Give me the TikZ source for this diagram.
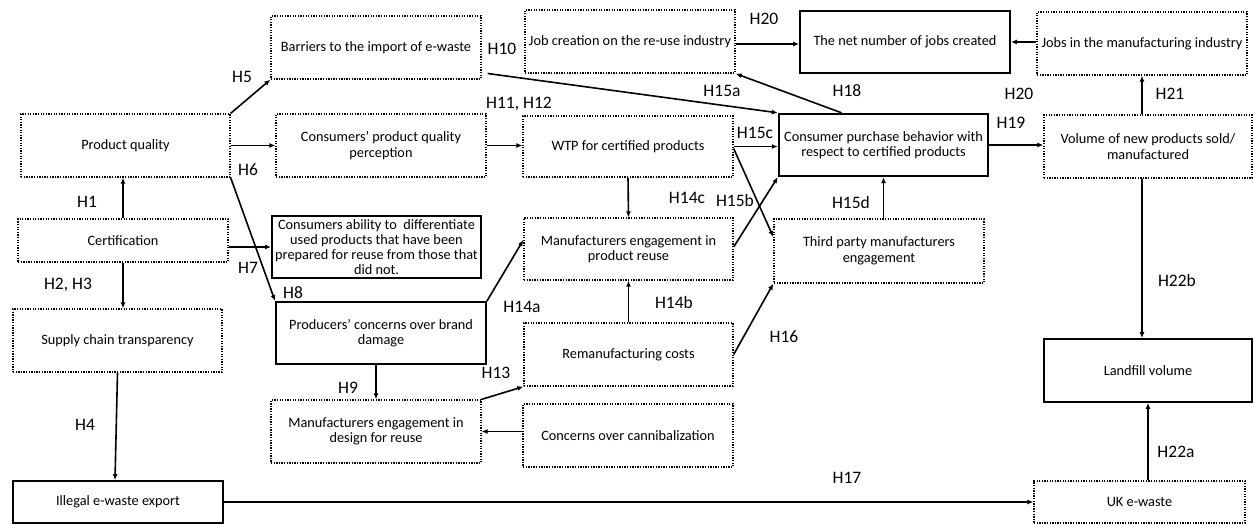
\documentclass[tikz,border=0pt]{standalone}
\usepackage{fontspec}
\setmainfont{Carlito}
\usetikzlibrary{arrows.meta}
\begin{document}
\begin{tikzpicture}[x=1pt,y=-1pt,
  box/.style={rectangle, align=center, inner sep=2pt, font=\fontsize{14.3}{15.5}\selectfont},
  dbox/.style={box, draw, line width=1.3pt, dash pattern=on 1.3pt off 1.3pt},
  sbox/.style={box, draw, line width=1.8pt},
  tbox/.style={box, draw, line width=2.4pt},
  hl/.style={inner sep=0pt, font=\fontsize{17.5}{18}\selectfont},
  arr/.style={-{Latex[length=6pt,width=5pt]}, line width=1.6pt},
  ln/.style={line width=1.6pt}]
\useasboundingbox (0,0) rectangle (1254,525);
% boxes
\node[dbox, minimum width=210pt, minimum height=63pt] (barriers) at (376,47.5) {Barriers to the import of e-waste};
\node[dbox, minimum width=209pt, minimum height=63pt] (pq) at (125.5,145.5) {Product quality};
\node[dbox, minimum width=210pt, minimum height=63pt] (perc) at (381,145.5) {Consumers’ product quality\\perception};
\node[dbox, minimum width=210pt, minimum height=43pt] (cert) at (123,240.5) {Certification};
\node[sbox, minimum width=209pt, minimum height=62pt, inner sep=0pt, font=\fontsize{14.3}{14.8}\selectfont] (ability) at (376.5,247) {Consumers ability to~ differentiate\\used products that have been\\prepared for reuse from those that\\did not.};
\node[dbox, minimum width=209pt, minimum height=63pt] (supply) at (117.5,340.5) {Supply chain transparency};
\node[sbox, minimum width=210pt, minimum height=42pt] (illegal) at (118,502) {Illegal e-waste export};
\node[sbox, minimum width=210pt, minimum height=62pt] (brand) at (381,333) {Producers’ concerns over brand\\damage};
\node[dbox, minimum width=210pt, minimum height=63pt] (design) at (376,431.5) {Manufacturers engagement in\\design for reuse};
\node[dbox, minimum width=210pt, minimum height=63pt] (job) at (630,41.5) {Job creation on the re-use industry};
\node[sbox, minimum width=210pt, minimum height=62pt] (net) at (905,42) {The net number of jobs created};
\node[dbox, minimum width=210pt, minimum height=63pt] (jobsmfg) at (1142,43.5) {Jobs in the manufacturing industry};
\node[dbox, minimum width=210pt, minimum height=61pt] (wtp) at (628,146.5) {WTP for certified products};
\node[tbox, minimum width=209pt, minimum height=62pt] (cpb) at (883.5,145) {Consumer purchase behavior with\\respect to certified products};
\node[dbox, minimum width=208pt, minimum height=63pt] (vol) at (1148,146.5) {Volume of new products sold/\\manufactured};
\node[dbox, minimum width=209pt, minimum height=62pt] (reuse) at (628.5,249) {Manufacturers engagement in\\product reuse};
\node[dbox, minimum width=210pt, minimum height=64pt] (third) at (879,251) {Third party manufacturers\\engagement};
\node[dbox, minimum width=209pt, minimum height=63pt] (reman) at (628.5,354.5) {Remanufacturing costs};
\node[dbox, minimum width=210pt, minimum height=63pt] (cann) at (628,435.5) {Concerns over cannibalization};
\node[sbox, minimum width=208pt, minimum height=63pt] (landfill) at (1148,370.5) {Landfill volume};
\node[dbox, minimum width=211pt, minimum height=42pt] (uk) at (1139.5,502) {UK e-waste};
% connectors
\draw[arr] (cert.north) -- (cert.north |- pq.south);
\draw[arr] (cert.south) -- (cert.south |- supply.north);
\draw[arr] (supply.south) -- ([xshift=-3pt]illegal.north);
\draw[arr] (pq.north east) -- (barriers.south west);
\draw[arr] (pq.east) -- (perc.west);
\draw[arr] (pq.south east) -- (brand.north west);
\draw[arr] (cert.east |- ability.west) -- (ability.west);
\draw[arr] (design.north |- brand.south) -- (design.north);
\draw[arr] (brand.north east) -- ([yshift=9pt]reuse.west);
\draw[arr] (design.north east) -- (reman.south west);
\draw[arr] (cann.west |- design.east) -- (design.east);
\draw[arr] (reman.north) -- (reuse.south);
\draw[arr] (reman.east) -- (third.south west);
\draw[arr] (perc.east) -- (perc.east -| wtp.west);
\draw[arr] (wtp.south) -- (reuse.north);
\draw[arr] (wtp.east) -- (wtp.east -| cpb.west);
\draw[arr] ([yshift=-2pt]wtp.east) -- ([yshift=14pt]third.west);
\draw[arr] ([yshift=2pt]reuse.east) -- (cpb.south west);
\draw[arr] ([xshift=6pt,yshift=-26pt]barriers.east) -- (cpb.north west);
\draw[arr] ([xshift=-42pt]cpb.north) -- (job.south east);
\draw[arr] ([yshift=-2.5pt]job.east) -- ([yshift=-2.5pt]job.east -| net.west);
\draw[arr] (jobsmfg.west |- net.east) -- (net.east);
\draw[arr] (jobsmfg.south |- vol.north) -- (jobsmfg.south);
\draw[arr] (cpb.east) -- (cpb.east -| vol.west);
\draw[arr] (cpb.south |- third.north) -- (cpb.south);
\draw[arr] ([xshift=-6pt]vol.south) -- ([xshift=-6pt]landfill.north);
\draw[arr] (landfill.south |- uk.north) -- (landfill.south);
\draw[arr] (illegal.east) -- (illegal.east -| uk.west);
% labels
\node[hl] (lH1) at (87,202) {H1};
\node[hl] (lH23) at (68,285) {H2, H3};
\node[hl] (lH4) at (85,425) {H4};
\node[hl] (lH5) at (242,77) {H5};
\node[hl] (lH6) at (248,170) {H6};
\node[hl] (lH7) at (248,268) {H7};
\node[hl] (lH8) at (293,293) {H8};
\node[hl] (lH9) at (348,388) {H9};
\node[hl] (lH10) at (502,49) {H10};
\node[hl] (lH1112) at (519,104) {H11, H12};
\node[hl] (lH13) at (496,373) {H13};
\node[hl] (lH14a) at (522,307) {H14a};
\node[hl] (lH14b) at (674,302) {H14b};
\node[hl] (lH14c) at (687,198) {H14c};
\node[hl] (lH15a) at (722,91) {H15a};
\node[hl] (lH15b) at (735,200) {H15b};
\node[hl] (lH15c) at (755,133) {H15c};
\node[hl] (lH15d) at (851,202) {H15d};
\node[hl] (lH16) at (784,337) {H16};
\node[hl] (lH17) at (847,478) {H17};
\node[hl] (lH18) at (847,91) {H18};
\node[hl] (lH19) at (1011,123) {H19};
\node[hl] (lH20a) at (764,19) {H20};
\node[hl] (lH20b) at (1019,94) {H20};
\node[hl] (lH21) at (1170,94) {H21};
\node[hl] (lH22a) at (1176,452) {H22a};
\node[hl] (lH22b) at (1177,280) {H22b};
\end{tikzpicture}
\end{document}
